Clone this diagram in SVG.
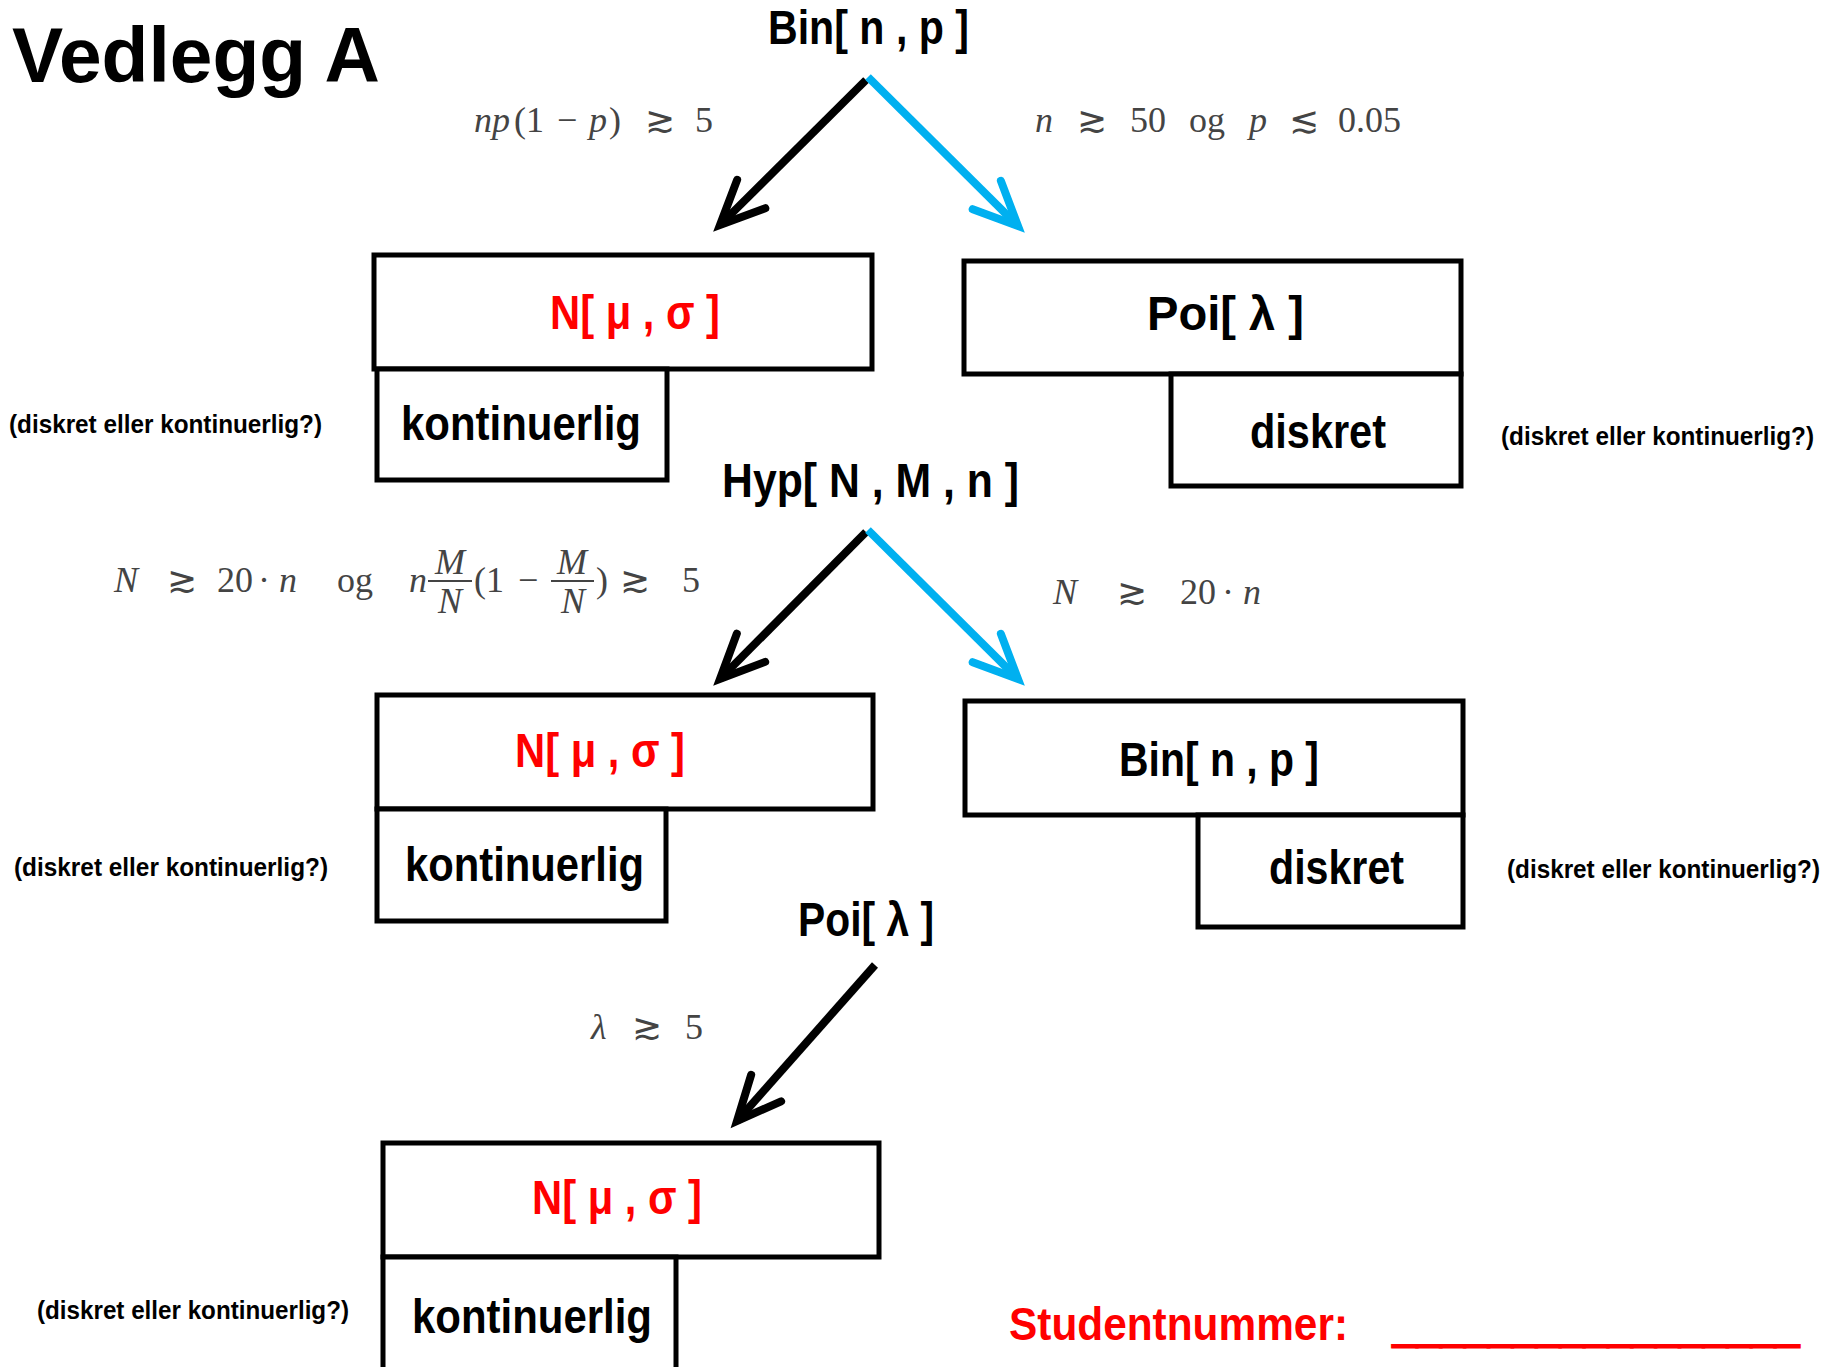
<svg xmlns="http://www.w3.org/2000/svg" width="1835" height="1367" viewBox="0 0 1835 1367">
<defs>
<style>
.b{font-family:'Liberation Sans',Arial,sans-serif;font-weight:bold;fill:#000}
.t{font-size:48px}
.red{fill:#ff0000}
.lbl{font-size:25px}
.box{fill:#fff;stroke:#000;stroke-width:5}
.m{font-family:'Liberation Serif','DejaVu Serif','DejaVu Sans',serif;font-size:36px;fill:#444}
.i{font-style:italic}
.rel{font-family:'DejaVu Sans',sans-serif;font-size:36px}
.bar{stroke:#444;stroke-width:1.8}
.arr{fill:none;stroke-width:8;stroke-linecap:butt}
</style>
<marker id="hk" markerUnits="userSpaceOnUse" orient="auto" markerWidth="60" markerHeight="60" refX="0" refY="0" viewBox="-50 -30 60 60" overflow="visible">
<path d="M-44,-20 L0,0 L-44,20" fill="none" stroke="#000" stroke-width="8" stroke-linecap="round" stroke-linejoin="miter"/>
</marker>
<marker id="hb" markerUnits="userSpaceOnUse" orient="auto" markerWidth="60" markerHeight="60" refX="0" refY="0" viewBox="-50 -30 60 60" overflow="visible">
<path d="M-44,-20 L0,0 L-44,20" fill="none" stroke="#00B0F0" stroke-width="8" stroke-linecap="round" stroke-linejoin="miter"/>
</marker>
</defs>
<rect width="1835" height="1367" fill="#fff"/>

<text id="title" class="b" x="12" y="82" font-size="78" textLength="368" lengthAdjust="spacingAndGlyphs">Vedlegg A</text>

<g id="connectors">
<line class="arr" stroke="#000" x1="866" y1="80" x2="720" y2="225" marker-end="url(#hk)"/>
<line class="arr" stroke="#00B0F0" x1="868" y1="77" x2="1018" y2="226" marker-end="url(#hb)"/>
<line class="arr" stroke="#000" x1="866" y1="532" x2="720" y2="679" marker-end="url(#hk)"/>
<line class="arr" stroke="#00B0F0" x1="868" y1="530" x2="1018" y2="679" marker-end="url(#hb)"/>
<line class="arr" stroke="#000" x1="875" y1="965" x2="737" y2="1121" marker-end="url(#hk)"/>
</g>

<g id="node-bin-top">
<text class="b t" x="768" y="44" textLength="201" lengthAdjust="spacingAndGlyphs">Bin[ n , p ]</text>
</g>

<g id="cond-1">
<text class="m" y="132"><tspan class="i" x="474">np</tspan><tspan x="514">(1</tspan><tspan x="557">−</tspan><tspan class="i" x="589">p</tspan><tspan x="609">)</tspan><tspan class="rel" x="645">≳</tspan><tspan x="695">5</tspan></text>
</g>
<g id="cond-2">
<text class="m" y="132"><tspan class="i" x="1035">n</tspan><tspan class="rel" x="1077">≳</tspan><tspan x="1130">50</tspan><tspan x="1189">og</tspan><tspan class="i" x="1249">p</tspan><tspan class="rel" x="1289">≲</tspan><tspan x="1338">0.05</tspan></text>
</g>

<g id="node-normal-1">
<rect class="box" x="374" y="255" width="498" height="114"/>
<rect class="box" x="377" y="369" width="290" height="111"/>
<text class="b t red" x="550" y="329" textLength="170" lengthAdjust="spacingAndGlyphs">N[ μ , σ ]</text>
<text class="b t" x="401" y="440" textLength="240" lengthAdjust="spacingAndGlyphs">kontinuerlig</text>
<text class="b lbl" x="9" y="433" textLength="313" lengthAdjust="spacingAndGlyphs">(diskret eller kontinuerlig?)</text>
</g>

<g id="node-poi-1">
<rect class="box" x="964" y="261" width="497" height="113"/>
<rect class="box" x="1171" y="374" width="290" height="112"/>
<text class="b t" x="1147" y="330" textLength="157" lengthAdjust="spacingAndGlyphs">Poi[ λ ]</text>
<text class="b t" x="1250" y="448" textLength="136" lengthAdjust="spacingAndGlyphs">diskret</text>
<text class="b lbl" x="1501" y="445" textLength="313" lengthAdjust="spacingAndGlyphs">(diskret eller kontinuerlig?)</text>
</g>

<g id="node-hyp">
<text class="b t" x="722" y="497" textLength="297" lengthAdjust="spacingAndGlyphs">Hyp[ N , M , n ]</text>
</g>

<g id="cond-3">
<text class="m" y="592"><tspan class="i" x="114">N</tspan><tspan class="rel" x="167">≳</tspan><tspan x="217">20</tspan><tspan x="258">·</tspan><tspan class="i" x="279">n</tspan><tspan x="337">og</tspan><tspan class="i" x="409">n</tspan><tspan x="474">(1</tspan><tspan x="518">−</tspan><tspan x="596">)</tspan><tspan class="rel" x="620">≳</tspan><tspan x="682">5</tspan></text>
<text class="m i" x="435" y="574">M</text>
<line class="bar" x1="428" y1="581" x2="472" y2="581"/>
<text class="m i" x="438" y="613">N</text>
<text class="m i" x="557" y="574">M</text>
<line class="bar" x1="551" y1="581" x2="594" y2="581"/>
<text class="m i" x="561" y="613">N</text>
</g>
<g id="cond-4">
<text class="m" y="604"><tspan class="i" x="1053">N</tspan><tspan class="rel" x="1117">≳</tspan><tspan x="1180">20</tspan><tspan x="1222">·</tspan><tspan class="i" x="1243">n</tspan></text>
</g>

<g id="node-normal-2">
<rect class="box" x="377" y="695" width="496" height="114"/>
<rect class="box" x="377" y="809" width="289" height="112"/>
<text class="b t red" x="515" y="767" textLength="170" lengthAdjust="spacingAndGlyphs">N[ μ , σ ]</text>
<text class="b t" x="405" y="881" textLength="239" lengthAdjust="spacingAndGlyphs">kontinuerlig</text>
<text class="b lbl" x="14" y="876" textLength="314" lengthAdjust="spacingAndGlyphs">(diskret eller kontinuerlig?)</text>
</g>

<g id="node-bin-2">
<rect class="box" x="965" y="701" width="498" height="114"/>
<rect class="box" x="1198" y="815" width="265" height="112"/>
<text class="b t" x="1119" y="776" textLength="200" lengthAdjust="spacingAndGlyphs">Bin[ n , p ]</text>
<text class="b t" x="1269" y="884" textLength="135" lengthAdjust="spacingAndGlyphs">diskret</text>
<text class="b lbl" x="1507" y="878" textLength="313" lengthAdjust="spacingAndGlyphs">(diskret eller kontinuerlig?)</text>
</g>

<g id="node-poi-2">
<text class="b t" x="798" y="936" textLength="136" lengthAdjust="spacingAndGlyphs">Poi[ λ ]</text>
</g>

<g id="cond-5">
<text class="m" y="1039"><tspan class="i" x="591">λ</tspan><tspan class="rel" x="632">≳</tspan><tspan x="685">5</tspan></text>
</g>

<g id="node-normal-3">
<rect class="box" x="383" y="1143" width="496" height="114"/>
<rect class="box" x="383" y="1257" width="293" height="120"/>
<text class="b t red" x="532" y="1214" textLength="170" lengthAdjust="spacingAndGlyphs">N[ μ , σ ]</text>
<text class="b t" x="412" y="1333" textLength="240" lengthAdjust="spacingAndGlyphs">kontinuerlig</text>
<text class="b lbl" x="37" y="1319" textLength="312" lengthAdjust="spacingAndGlyphs">(diskret eller kontinuerlig?)</text>
</g>

<g id="student">
<text class="b red" x="1009" y="1340" font-size="46" textLength="339" lengthAdjust="spacingAndGlyphs">Studentnummer:</text>
<text class="b red" x="1393" y="1342" font-size="43" stroke="#ff0000" stroke-width="3" textLength="406" lengthAdjust="spacingAndGlyphs">_________________</text>
</g>
</svg>
